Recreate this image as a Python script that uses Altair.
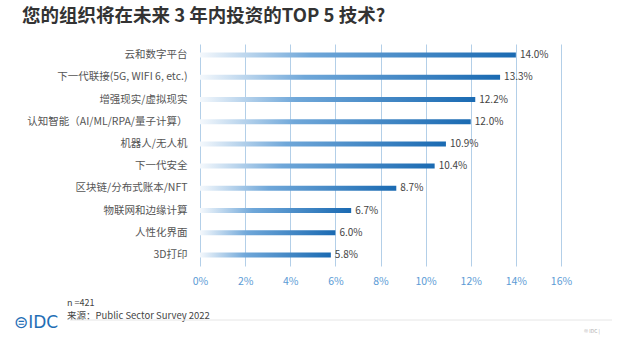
import altair as alt
import pandas as pd

categories = [
    "云和数字平台",
    "下一代联接(5G, WIFI 6, etc.)",
    "增强现实/虚拟现实",
    "认知智能（AI/ML/RPA/量子计算）",
    "机器人/无人机",
    "下一代安全",
    "区块链/分布式账本/NFT",
    "物联网和边缘计算",
    "人性化界面",
    "3D打印",
]
values = [14.0, 13.3, 12.2, 12.0, 10.9, 10.4, 8.7, 6.7, 6.0, 5.8]
tick_values = [0, 2, 4, 6, 8, 10, 12, 14, 16]

title_text = "您的组织将在未来 3 年内投资的TOP 5 技术?"
note_n = "n =421"
note_source = "来源：Public Sector Survey 2022"

FONT = "Noto Sans CJK SC"

df = pd.DataFrame({"cat": categories, "v": values})

grad = alt.Gradient(
    gradient="linear",
    stops=[
        alt.GradientStop(offset=0, color="#f4f8fc"),
        alt.GradientStop(offset=0.35, color="#6fa7d9"),
        alt.GradientStop(offset=1, color="#1a6ab2"),
    ],
    x1=0, x2=1, y1=0, y2=0,
)

x_enc = alt.X(
    "v:Q",
    scale=alt.Scale(domain=[0, 16], nice=False),
    axis=alt.Axis(
        values=tick_values,
        labelExpr="datum.value + '%'",
        title=None,
        domain=False,
        ticks=False,
        grid=True,
        gridColor="#b3cfe8",
        gridWidth=1,
        labelColor="#5b9bd5",
        labelFontSize=10.5,
        labelFont=FONT,
        labelPadding=10,
        labelFlush=False,
    ),
)
y_enc = alt.Y(
    "cat:N",
    sort=categories,
    scale=alt.Scale(paddingInner=0, paddingOuter=0),
    axis=alt.Axis(
        title=None,
        domain=False,
        ticks=False,
        grid=False,
        labelColor="#555555",
        labelFontSize=10.5,
        labelFont=FONT,
        labelPadding=13,
    ),
)

bars = alt.Chart(df).mark_bar(color=grad, size=5).encode(x=x_enc, y=y_enc)

labels = (
    alt.Chart(df)
    .transform_calculate(lab="format(datum.v, '.1f') + '%'")
    .mark_text(align="left", baseline="middle", dx=4, fontSize=10, font=FONT, color="#444444")
    .encode(x="v:Q", y=alt.Y("cat:N", sort=categories), text="lab:N")
)

one = pd.DataFrame({"a": [0]})

title = alt.Chart(one).mark_text(
    align="left", baseline="middle", fontSize=18.5, fontWeight="bold", font=FONT, color="#333333"
).encode(x=alt.value(-178), y=alt.value(-28), text=alt.value(title_text))

n_txt = alt.Chart(one).mark_text(
    align="left", baseline="middle", fontSize=9, font=FONT, color="#444444"
).encode(x=alt.value(-133), y=alt.value(259), text=alt.value(note_n))

src_txt = alt.Chart(one).mark_text(
    align="left", baseline="middle", fontSize=9.5, font=FONT, color="#444444"
).encode(x=alt.value(-133), y=alt.value(272), text=alt.value(note_source))

footer_line = alt.Chart(one).mark_rule(color="#e6e6e6", strokeWidth=1).encode(
    x=alt.value(-130), x2=alt.value(412), y=alt.value(276)
)

logo = alt.Chart(one).mark_text(
    align="left", baseline="middle", fontSize=17, font="DejaVu Sans", color="#1f6eb5"
).encode(x=alt.value(-186), y=alt.value(279), text=alt.value("⊜IDC"))

copy_txt = alt.Chart(one).mark_text(
    align="left", baseline="middle", fontSize=5, font=FONT, color="#aaaaaa"
).encode(x=alt.value(384), y=alt.value(287), text=alt.value("© IDC |"))

chart = (
    alt.layer(bars, labels, title, n_txt, src_txt, footer_line, logo, copy_txt)
    .properties(
        width=361,
        height=222,
        autosize=alt.AutoSizeParams(type="none"),
        padding={"left": 200, "top": 44, "right": 56, "bottom": 74},
        background="white",
    )
    .configure_view(stroke=None)
)

chart.save("out.html", embed_options={"renderer": "svg", "actions": False})
